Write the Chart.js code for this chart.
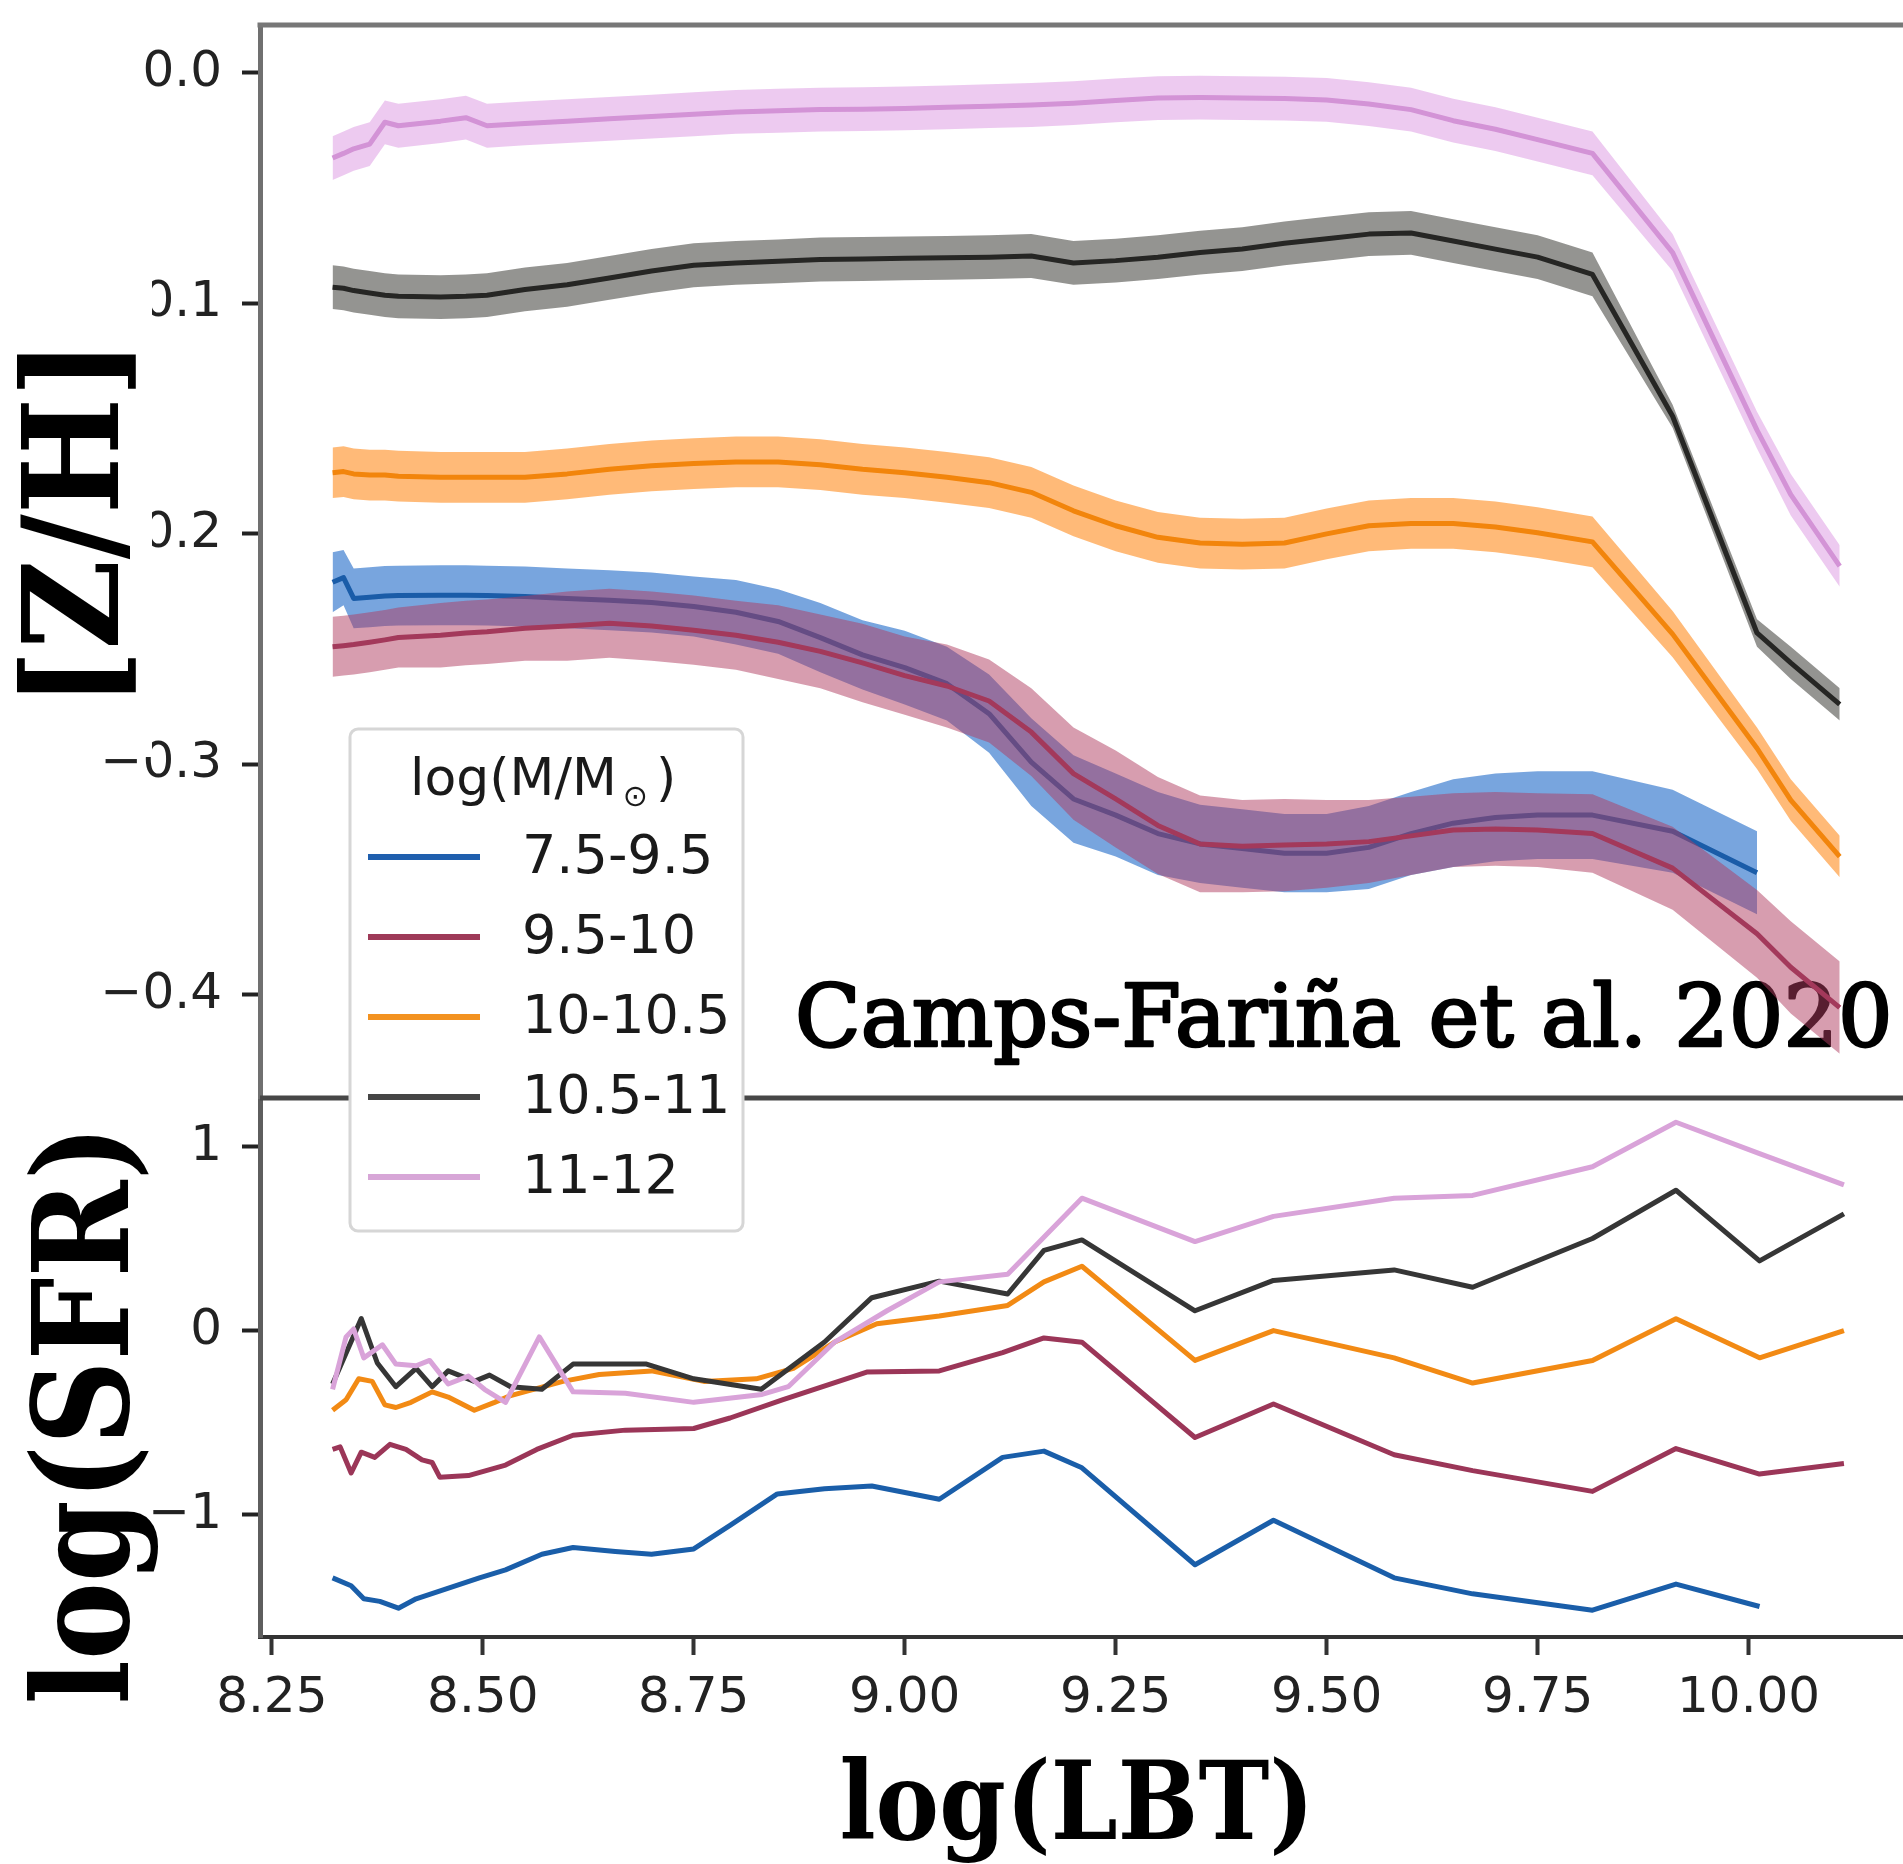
<!DOCTYPE html>
<html>
<head>
<meta charset="utf-8">
<title>[Z/H] and log(SFR) against log(LBT)</title>
<script src="https://cdn.jsdelivr.net/npm/chart.js@4.4.1/dist/chart.umd.min.js"></script>
<style>
  html, body { margin: 0; padding: 0; background: #fff; }
  #chart { display: block; }
</style>
</head>
<body>
<canvas id="chart" width="1903" height="1864" style="width:1903px;height:1864px"></canvas>
<script>
// mass bins, log(M/Msun)
const massBins = ['7.5-9.5', '9.5-10', '10-10.5', '10.5-11', '11-12'];

// log(LBT) sampling of the [Z/H] curves
const lbtZ = [
    8.322, 8.335, 8.347, 8.366, 8.384, 8.40, 8.45, 8.48, 8.505, 8.55,
    8.60, 8.65, 8.70, 8.75, 8.80, 8.85, 8.90, 8.95, 9.00, 9.05,
    9.10, 9.15, 9.20, 9.25, 9.30, 9.35, 9.40, 9.45, 9.50, 9.55,
    9.60, 9.65, 9.70, 9.75, 9.815, 9.91, 10.01, 10.05, 10.108
];

// [Z/H] mean curves (the lowest mass bin stops at log(LBT) = 10.01)
const zBlue = [
    -0.221, -0.219, -0.228, -0.2275, -0.227, -0.2268, -0.2266, -0.2266, -0.2268, -0.2272,
    -0.228, -0.2288, -0.2298, -0.2315, -0.234, -0.238, -0.245, -0.2525, -0.258, -0.265,
    -0.278, -0.299, -0.315, -0.322, -0.330, -0.3345, -0.3365, -0.3385, -0.3385, -0.336,
    -0.330, -0.3255, -0.323, -0.322, -0.322, -0.329, -0.347
];
const zRed = [
    -0.249, -0.2485, -0.248, -0.247, -0.246, -0.245, -0.244, -0.243, -0.2425, -0.241,
    -0.240, -0.2388, -0.240, -0.2418, -0.244, -0.247, -0.251, -0.256, -0.2615, -0.266,
    -0.2725, -0.286, -0.304, -0.315, -0.3265, -0.3345, -0.3355, -0.335, -0.3345, -0.3335,
    -0.331, -0.3285, -0.328, -0.3285, -0.330, -0.345, -0.3735, -0.388, -0.4055
];
const zOrange = [
    -0.1735, -0.173, -0.174, -0.1745, -0.1745, -0.175, -0.1755, -0.1755, -0.1755, -0.1755,
    -0.174, -0.172, -0.1705, -0.1695, -0.1688, -0.1688, -0.170, -0.172, -0.1735, -0.1755,
    -0.1778, -0.182, -0.190, -0.1965, -0.2015, -0.204, -0.2045, -0.204, -0.200, -0.1965,
    -0.1955, -0.1955, -0.197, -0.1995, -0.2035, -0.2435, -0.293, -0.3155, -0.340
];
const zBlack = [
    -0.093, -0.0935, -0.0945, -0.0955, -0.0965, -0.097, -0.0973, -0.097, -0.0965, -0.094,
    -0.092, -0.089, -0.086, -0.0835, -0.0825, -0.0818, -0.081, -0.0808, -0.0805, -0.0803,
    -0.080, -0.0795, -0.0825, -0.0815, -0.080, -0.078, -0.0765, -0.074, -0.072, -0.070,
    -0.0695, -0.073, -0.0765, -0.080, -0.0875, -0.149, -0.243, -0.256, -0.274
];
const zPink = [
    -0.037, -0.035, -0.033, -0.031, -0.0215, -0.023, -0.021, -0.0195, -0.023, -0.022,
    -0.021, -0.020, -0.019, -0.018, -0.017, -0.0165, -0.016, -0.0158, -0.0155, -0.015,
    -0.0145, -0.014, -0.0132, -0.012, -0.011, -0.0108, -0.011, -0.0112, -0.0118, -0.0136,
    -0.016, -0.0208, -0.0245, -0.029, -0.035, -0.078, -0.155, -0.183, -0.214
];

// half-widths of the shaded bands
const zBlueErr = [
    0.013, 0.012, 0.013, 0.013, 0.013, 0.013, 0.013, 0.013, 0.013, 0.013,
    0.013, 0.013, 0.013, 0.013, 0.014, 0.014, 0.015, 0.015, 0.016, 0.016,
    0.017, 0.019, 0.019, 0.018, 0.018, 0.017, 0.017, 0.017, 0.017, 0.018,
    0.018, 0.019, 0.019, 0.019, 0.019, 0.018, 0.018
];
const zRedErr = [
    0.013, 0.013, 0.013, 0.013, 0.013, 0.013, 0.014, 0.014, 0.014, 0.014,
    0.015, 0.015, 0.015, 0.015, 0.015, 0.016, 0.016, 0.017, 0.017, 0.018,
    0.018, 0.019, 0.020, 0.021, 0.021, 0.021, 0.020, 0.020, 0.019, 0.018,
    0.017, 0.016, 0.016, 0.016, 0.017, 0.018, 0.019, 0.020, 0.020
];
const zOrangeErr = [
    0.011, 0.011, 0.011, 0.011, 0.011, 0.011, 0.011, 0.011, 0.011, 0.011,
    0.011, 0.011, 0.011, 0.011, 0.011, 0.011, 0.011, 0.011, 0.011, 0.011,
    0.011, 0.011, 0.011, 0.011, 0.011, 0.011, 0.011, 0.011, 0.011, 0.011,
    0.011, 0.011, 0.011, 0.011, 0.011, 0.010, 0.009, 0.009, 0.009
];
const zBlackErr = [
    0.0095, 0.0095, 0.0095, 0.0095, 0.0095, 0.0095, 0.0095, 0.0095, 0.0095, 0.0095,
    0.0095, 0.0095, 0.0095, 0.0095, 0.0095, 0.0095, 0.0095, 0.0095, 0.0095, 0.0095,
    0.0095, 0.0095, 0.0095, 0.0095, 0.0095, 0.0095, 0.0095, 0.0095, 0.0095, 0.0095,
    0.0095, 0.0095, 0.0095, 0.0095, 0.0095, 0.005, 0.006, 0.007, 0.007
];
const zPinkErr = [
    0.0095, 0.0095, 0.0095, 0.0095, 0.0095, 0.0095, 0.0095, 0.0095, 0.0095, 0.0095,
    0.0095, 0.0095, 0.0095, 0.0095, 0.0095, 0.0095, 0.0095, 0.0095, 0.0095, 0.0095,
    0.0095, 0.0095, 0.0095, 0.0095, 0.0095, 0.0095, 0.0095, 0.0095, 0.0095, 0.0095,
    0.0095, 0.0095, 0.0095, 0.0095, 0.0095, 0.008, 0.008, 0.009, 0.009
];

// log(SFR) curves, each with its own log(LBT) sampling
const sfrBlueLbt = [8.322, 8.344, 8.359, 8.378, 8.40, 8.421, 8.496, 8.527, 8.570, 8.607, 8.657, 8.70, 8.75, 8.793,
    8.849, 8.905, 8.961, 9.041, 9.116, 9.165, 9.21, 9.344, 9.437, 9.58, 9.673, 9.815, 9.914, 10.013];
const sfrBlue = [-1.343, -1.386, -1.457, -1.471, -1.508, -1.457, -1.343, -1.300, -1.215, -1.178, -1.200, -1.215, -1.186, -1.058,
    -0.887, -0.859, -0.844, -0.916, -0.688, -0.654, -0.745, -1.272, -1.030, -1.343, -1.43, -1.519, -1.377, -1.499];

const sfrRedLbt = [8.322, 8.331, 8.344, 8.356, 8.372, 8.390, 8.409, 8.428, 8.440, 8.449, 8.483, 8.527, 8.564, 8.607, 8.669, 8.750,
    8.793, 8.855, 8.955, 9.041, 9.116, 9.165, 9.21, 9.344, 9.437, 9.58, 9.673, 9.815, 9.914, 10.013, 10.113];
const sfrRed = [-0.645, -0.631, -0.773, -0.660, -0.688, -0.617, -0.645, -0.702, -0.716, -0.796, -0.787, -0.730, -0.645, -0.568, -0.540, -0.531,
    -0.474, -0.375, -0.224, -0.218, -0.119, -0.039, -0.062, -0.580, -0.398, -0.674, -0.76, -0.873, -0.640, -0.779, -0.722];

const sfrOrangeLbt = [8.322, 8.338, 8.353, 8.369, 8.384, 8.397, 8.415, 8.440, 8.459, 8.490, 8.514, 8.533, 8.595, 8.638, 8.700, 8.762,
    8.824, 8.868, 8.917, 8.967, 9.041, 9.122, 9.165, 9.21, 9.344, 9.437, 9.58, 9.673, 9.815, 9.914, 10.013, 10.113];
const sfrOrange = [-0.432, -0.375, -0.261, -0.275, -0.403, -0.417, -0.389, -0.332, -0.360, -0.432, -0.389, -0.352, -0.275, -0.238, -0.218, -0.275,
    -0.261, -0.204, -0.061, 0.038, 0.081, 0.138, 0.266, 0.351, -0.161, 0.001, -0.147, -0.284, -0.161, 0.066, -0.147, 0.001];

const sfrBlackLbt = [8.322, 8.356, 8.375, 8.397, 8.421, 8.440, 8.459, 8.490, 8.508, 8.533, 8.570, 8.607, 8.694, 8.750, 8.830,
    8.905, 8.961, 9.041, 9.122, 9.165, 9.21, 9.344, 9.437, 9.58, 9.673, 9.815, 9.914, 10.013, 10.113];
const sfrBlack = [-0.289, 0.067, -0.175, -0.304, -0.204, -0.304, -0.218, -0.275, -0.241, -0.304, -0.318, -0.181, -0.181, -0.261, -0.318,
    -0.061, 0.180, 0.270, 0.200, 0.437, 0.494, 0.109, 0.274, 0.331, 0.237, 0.502, 0.764, 0.380, 0.636];

const sfrPinkLbt = [8.322, 8.338, 8.347, 8.359, 8.381, 8.397, 8.421, 8.437, 8.459, 8.483, 8.502, 8.527, 8.567, 8.607, 8.669, 8.750,
    8.831, 8.862, 8.917, 8.979, 9.041, 9.122, 9.21, 9.344, 9.437, 9.58, 9.673, 9.815, 9.914, 10.013, 10.113];
const sfrPink = [-0.318, -0.033, 0.010, -0.147, -0.076, -0.181, -0.190, -0.161, -0.289, -0.246, -0.318, -0.389, -0.033, -0.332, -0.340, -0.389,
    -0.346, -0.304, -0.061, 0.109, 0.266, 0.308, 0.721, 0.485, 0.622, 0.721, 0.736, 0.892, 1.134, 0.963, 0.793];

// tick positions
const xTicks = [8.25, 8.50, 8.75, 9.00, 9.25, 9.50, 9.75, 10.00];
const zTicks = [-0.4, -0.3, -0.2, -0.1, 0.0];
const sfrTicks = [-1, 0, 1];

// colours per mass bin
const styles = [
    { line: '#1a5ca8', band: 'rgba(30, 105, 200, 0.6)', sfr: '#1a5ea9', key: '#1f5fae' },
    { line: '#a3395b', band: 'rgba(175, 60, 95, 0.5)', sfr: '#9b3658', key: '#9e3a58' },
    { line: '#f2850c', band: 'rgba(255, 140, 30, 0.6)', sfr: '#f28a14', key: '#f39220' },
    { line: '#262624', band: 'rgba(60, 60, 55, 0.55)', sfr: '#363636', key: '#454545' },
    { line: '#d393d6', band: 'rgba(220, 150, 225, 0.5)', sfr: '#d9a3d9', key: '#d7a6d7' }
];

const zSeries = [[zBlue, zBlueErr], [zRed, zRedErr], [zOrange, zOrangeErr], [zBlack, zBlackErr], [zPink, zPinkErr]];
const sfrSeries = [[sfrBlueLbt, sfrBlue], [sfrRedLbt, sfrRed], [sfrOrangeLbt, sfrOrange], [sfrBlackLbt, sfrBlack], [sfrPinkLbt, sfrPink]];

const datasets = [];
zSeries.forEach(([mean, err], i) => {
    const st = styles[i];
    datasets.push({
        data: mean.map((v, k) => ({ x: lbtZ[k], y: v + err[k] })),
        yAxisID: 'yZ', fill: '+1', backgroundColor: st.band,
        borderColor: 'rgba(0,0,0,0)', borderWidth: 0, pointRadius: 0
    });
    datasets.push({
        data: mean.map((v, k) => ({ x: lbtZ[k], y: v - err[k] })),
        yAxisID: 'yZ', fill: false,
        borderColor: 'rgba(0,0,0,0)', borderWidth: 0, pointRadius: 0
    });
    datasets.push({
        label: massBins[i],
        data: mean.map((v, k) => ({ x: lbtZ[k], y: v })),
        yAxisID: 'yZ', fill: false, borderColor: st.line, borderWidth: 5, pointRadius: 0
    });
});
sfrSeries.forEach(([lbt, vals], i) => {
    datasets.push({
        label: massBins[i],
        data: vals.map((v, k) => ({ x: lbt[k], y: v })),
        yAxisID: 'ySFR', fill: false, borderColor: styles[i].sfr, borderWidth: 5, pointRadius: 0
    });
});
// draw in the order the datasets were added (later ones on top)
datasets.forEach((d, i) => {
    d.order = -i;
    d.tension = 0;
    d.borderJoinStyle = 'round';
});

// text squeezed or stretched so its ink spans a given length
function drawFitted(ctx, text, font, x, y, length, angle, stroke) {
    ctx.save();
    ctx.font = font;
    ctx.fillStyle = '#000';
    ctx.textAlign = 'left';
    ctx.textBaseline = 'alphabetic';
    const m = ctx.measureText(text);
    const inkWidth = m.actualBoundingBoxLeft + m.actualBoundingBoxRight;
    ctx.translate(x, y);
    ctx.rotate(angle);
    ctx.scale(length / inkWidth, 1);
    ctx.fillText(text, m.actualBoundingBoxLeft, 0);
    if (stroke) {
        // thicken the strokes a little (semi-bold look)
        ctx.strokeStyle = '#000';
        ctx.lineWidth = stroke;
        ctx.lineJoin = 'round';
        ctx.strokeText(text, m.actualBoundingBoxLeft, 0);
    }
    ctx.restore();
}

// the plot box is fixed in pixels, so drop the label overhang padding
function fixBox(s, w, h) {
    if (w) s.width = w;
    if (h) s.height = h;
    s.paddingTop = 0;
    s.paddingBottom = 0;
    s.paddingLeft = 0;
    s.paddingRight = 0;
}

const decorations = {
    id: 'decorations',
    beforeDatasetsDraw(chart) {
        drawFitted(chart.ctx, 'Camps-Fariña et al. 2020', '86px "DejaVu Serif"', 799, 1046, 1088, 0, 2.6);
    },
    afterDraw(chart) {
        const { ctx, chartArea } = chart;
        const yZ = chart.scales.yZ;
        ctx.save();
        ctx.lineCap = 'butt';

        // top spine and the line between the two panels
        ctx.strokeStyle = '#777777';
        ctx.lineWidth = 5;
        ctx.beginPath();
        ctx.moveTo(chartArea.left - 2.5, chartArea.top);
        ctx.lineTo(chartArea.right, chartArea.top);
        ctx.stroke();
        ctx.strokeStyle = '#474747';
        ctx.beginPath();
        ctx.moveTo(chartArea.left, yZ.bottom);
        ctx.lineTo(chartArea.right, yZ.bottom);
        ctx.stroke();

        // legend
        ctx.beginPath();
        ctx.roundRect(350, 729, 393, 502, 8);
        ctx.fillStyle = '#ffffff';
        ctx.fill();
        ctx.strokeStyle = '#d6d6d6';
        ctx.lineWidth = 3;
        ctx.stroke();

        ctx.fillStyle = '#1a1a1a';
        ctx.textAlign = 'left';
        ctx.textBaseline = 'alphabetic';
        ctx.font = '52px "DejaVu Sans"';
        const head = 'log(M/M';
        ctx.fillText(head, 410, 795);
        let tx = 410 + ctx.measureText(head).width + 6;
        ctx.font = '30px "DejaVu Sans"';
        ctx.fillText('\u2299', tx, 806);
        tx += ctx.measureText('\u2299').width + 8;
        ctx.font = '52px "DejaVu Sans"';
        ctx.fillText(')', tx, 795);

        ctx.font = '54px "DejaVu Sans"';
        ctx.textBaseline = 'middle';
        massBins.forEach((name, i) => {
            const y = 857 + i * 80;
            ctx.strokeStyle = styles[i].key;
            ctx.lineWidth = 6;
            ctx.beginPath();
            ctx.moveTo(368, y);
            ctx.lineTo(480, y);
            ctx.stroke();
            ctx.fillText(name, 522, y + 2);
        });

        // white patch behind the [Z/H] label (it hides part of the tick labels)
        ctx.fillStyle = '#ffffff';
        ctx.fillRect(0, 270, 152, 487);
        ctx.restore();

        drawFitted(ctx, '[Z/H]', 'bold 133px "DejaVu Serif"', 118, 693, 339, -Math.PI / 2);
        drawFitted(ctx, 'log(SFR)', 'bold 132px "DejaVu Serif"', 128, 1701, 565, -Math.PI / 2);
        drawFitted(ctx, 'log(LBT)', 'bold 109px "DejaVu Serif"', 842, 1839, 464, 0);
    }
};

const tickFont = { family: 'DejaVu Sans', size: 50 };

new Chart(document.getElementById('chart'), {
    type: 'line',
    data: { datasets: datasets },
    options: {
        responsive: false,
        animation: false,
        devicePixelRatio: 1,
        layout: { autoPadding: false, padding: { top: 25, left: 0, right: 0, bottom: 0 } },
        plugins: {
            legend: { display: false },
            tooltip: { enabled: false },
            filler: { propagate: false }
        },
        scales: {
            x: {
                type: 'linear',
                min: 8.236,
                max: 10.183,
                afterBuildTicks: s => { s.ticks = xTicks.map(v => ({ value: v })); },
                afterFit: s => fixBox(s, 0, 227),
                ticks: {
                    font: tickFont, color: '#222', padding: 14,
                    maxRotation: 0, autoSkip: false,
                    callback: v => v.toFixed(2)
                },
                grid: { display: true, drawOnChartArea: false, drawTicks: true, tickLength: 18, tickWidth: 4, tickColor: '#333' },
                border: { display: true, color: '#333', width: 4 }
            },
            ySFR: {
                type: 'linear',
                position: 'left',
                stack: 'panels',
                stackWeight: 539,
                min: -1.6647,
                max: 1.2657,
                afterBuildTicks: s => { s.ticks = sfrTicks.map(v => ({ value: v })); },
                afterFit: s => fixBox(s, 260, 0),
                ticks: {
                    font: tickFont, color: '#222', padding: 20, autoSkip: false,
                    callback: v => (v < 0 ? '\u2212' + Math.abs(v) : String(v))
                },
                grid: { display: true, drawOnChartArea: false, drawTicks: true, tickLength: 18, tickWidth: 4, tickColor: '#222' },
                border: { display: true, color: '#5e5e5e', width: 5 }
            },
            yZ: {
                type: 'linear',
                position: 'left',
                stack: 'panels',
                stackWeight: 1073,
                min: -0.4447,
                max: 0.0207,
                afterBuildTicks: s => { s.ticks = zTicks.map(v => ({ value: v })); },
                afterFit: s => fixBox(s, 260, 0),
                ticks: {
                    font: tickFont, color: '#222', padding: 20, autoSkip: false,
                    callback: v => (v < 0 ? '\u2212' + Math.abs(v).toFixed(1) : v.toFixed(1))
                },
                grid: { display: true, drawOnChartArea: false, drawTicks: true, tickLength: 18, tickWidth: 4, tickColor: '#222' },
                border: { display: true, color: '#707070', width: 5 }
            }
        }
    },
    plugins: [decorations]
});
</script>
</body>
</html>
